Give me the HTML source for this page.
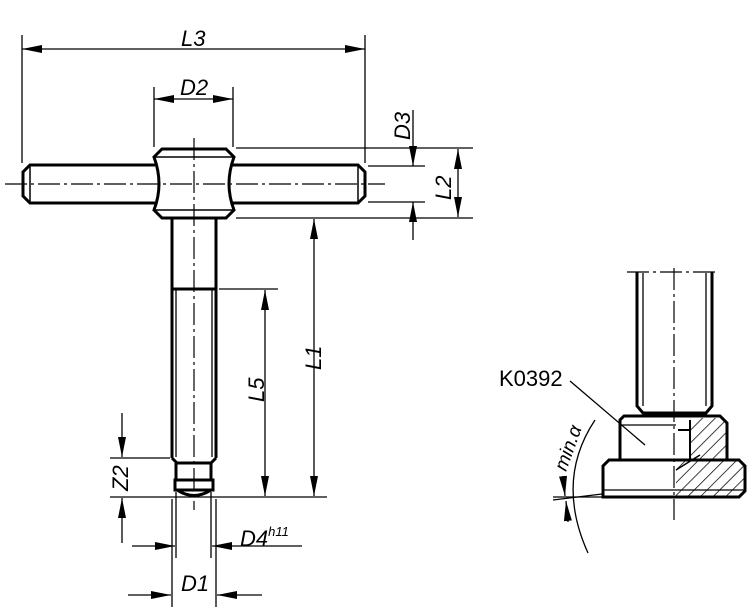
<!DOCTYPE html>
<html><head><style>html,body{margin:0;padding:0;background:#fff}svg{display:block}</style></head><body>
<svg width="750" height="612" viewBox="0 0 750 612" xmlns="http://www.w3.org/2000/svg" font-family="Liberation Sans, sans-serif" font-style="italic" font-size="22">
<defs>
<pattern id="h" width="9" height="9" patternUnits="userSpaceOnUse" patternTransform="rotate(45)"><line x1="0" y1="0" x2="0" y2="9" stroke="#000" stroke-width="1.5"/></pattern>
<marker id="a" markerWidth="20" markerHeight="8" refX="20" refY="4" orient="auto" markerUnits="userSpaceOnUse"><path d="M0,0 L20,4 L0,8z" fill="#000"/></marker>
</defs>
<g stroke="#000" fill="none">
<g stroke-width="3">
<path d="M155,165 L30,165 L23,172 L23,196 L30,203 L155,203"/>
<path d="M232,165 L358,165 L365,172 L365,196 L358,203 L232,203"/>
<path d="M162,149 L226,149 L234,157 Q224,184 234,210 L226,218 L162,218 L154,210 Q164,184 154,157 Z"/>
<line x1="30" y1="166" x2="30" y2="202" stroke-width="1.5"/><line x1="358" y1="166" x2="358" y2="202" stroke-width="1.5"/>
<line x1="155" y1="157" x2="233" y2="157" stroke-width="1.5"/><line x1="155" y1="210" x2="233" y2="210" stroke-width="1.5"/>
<path d="M172,218 L172,458 M216,218 L216,458 M172,289 L216,289"/>
<path d="M172,458 L177,463 L211,463 L216,458"/>
<path d="M176,463 L176,480 M211,463 L211,480 M175,480 L213,480 L213,490 L175,490 Z"/>
<path d="M177,490 Q194,501 211,490"/>
</g>
<line x1="176" y1="290" x2="176" y2="457" stroke-width="1.3"/><line x1="212" y1="290" x2="212" y2="457" stroke-width="1.3"/>
<g stroke-width="1.2" stroke-dasharray="22,4,3,4">
<line x1="5" y1="184" x2="385" y2="184"/>
<line x1="194" y1="138" x2="194" y2="510"/>
</g>
<g stroke-width="1.3">
<line x1="22" y1="35" x2="22" y2="163"/><line x1="365" y1="35" x2="365" y2="163"/>
<line x1="194" y1="49" x2="365" y2="49" marker-end="url(#a)"/><line x1="194" y1="49" x2="22" y2="49" marker-end="url(#a)"/>
<line x1="154" y1="87" x2="154" y2="147"/><line x1="233" y1="87" x2="233" y2="147"/>
<line x1="194" y1="99" x2="233" y2="99" marker-end="url(#a)"/><line x1="194" y1="99" x2="154" y2="99" marker-end="url(#a)"/>
<line x1="236" y1="148" x2="473" y2="148"/><line x1="236" y1="218" x2="473" y2="218"/>
<line x1="368" y1="166" x2="425" y2="166"/><line x1="368" y1="202" x2="425" y2="202"/>
<line x1="413" y1="110" x2="413" y2="166" marker-end="url(#a)"/><line x1="413" y1="240" x2="413" y2="202" marker-end="url(#a)"/>
<line x1="458" y1="183" x2="458" y2="149" marker-end="url(#a)"/><line x1="458" y1="183" x2="458" y2="217" marker-end="url(#a)"/>
<line x1="314" y1="330" x2="314" y2="219" marker-end="url(#a)"/><line x1="314" y1="330" x2="314" y2="496" marker-end="url(#a)"/>
<line x1="219" y1="289" x2="278" y2="289"/>
<line x1="265" y1="400" x2="265" y2="290" marker-end="url(#a)"/><line x1="265" y1="400" x2="265" y2="496" marker-end="url(#a)"/>
<line x1="110" y1="497" x2="327" y2="497"/>
<line x1="110" y1="458" x2="170" y2="458"/>
<line x1="122" y1="413" x2="122" y2="457" marker-end="url(#a)"/><line x1="122" y1="543" x2="122" y2="498" marker-end="url(#a)"/>
<line x1="176" y1="492" x2="176" y2="558"/><line x1="211" y1="492" x2="211" y2="558"/>
<line x1="132" y1="546" x2="175" y2="546" marker-end="url(#a)"/><line x1="302" y1="546" x2="212" y2="546" marker-end="url(#a)"/>
<line x1="172" y1="499" x2="172" y2="607"/><line x1="216" y1="499" x2="216" y2="607"/>
<line x1="128" y1="595" x2="171" y2="595" marker-end="url(#a)"/><line x1="262" y1="595" x2="217" y2="595" marker-end="url(#a)"/>
</g>
<rect x="676" y="460" width="68" height="37" fill="url(#h)" stroke="none"/>
<rect x="690" y="418" width="36" height="42" fill="url(#h)" stroke="none"/>
<g stroke-width="3">
<path d="M637,272 L637,406 L643,413 L706,413 L712,406 L712,272"/>
<path d="M620,460 L620,420 L624,416 L720,416 L727,423 L727,460"/>
<path d="M603,497 L603,466 L609,460 L739,460 L745,466 L745,491 L739,497 Z"/>
<line x1="678" y1="430" x2="690" y2="430" stroke-width="2"/>
<line x1="690" y1="420" x2="690" y2="460" stroke-width="2"/>
</g>
<line x1="643" y1="273" x2="643" y2="406" stroke-width="1.3"/><line x1="706" y1="273" x2="706" y2="406" stroke-width="1.3"/>
<line x1="603" y1="490" x2="745" y2="490" stroke-width="1.3"/><line x1="621" y1="425" x2="676" y2="425" stroke-width="1.3"/>
<line x1="676" y1="470" x2="700" y2="455" stroke-width="1.5"/>
<g stroke-width="1.2" stroke-dasharray="22,4,3,4">
<line x1="674" y1="268" x2="674" y2="520"/><line x1="627" y1="272" x2="717" y2="272"/>
</g>
<line x1="570" y1="381" x2="645" y2="445" stroke-width="1.3"/>
<path d="M595,420 Q555,480 588,553" stroke-width="1.3"/>
<line x1="553" y1="497" x2="602" y2="497" stroke-width="1.3"/>
<line x1="553" y1="500" x2="602" y2="494" stroke-width="1.3"/>
<line x1="563" y1="476" x2="565" y2="496" marker-end="url(#a)" stroke-width="1.3"/>
<line x1="568" y1="522" x2="566" y2="501" marker-end="url(#a)" stroke-width="1.3"/>
</g>
<g fill="#000" stroke="none">
<text x="181" y="46">L3</text>
<text x="180" y="95">D2</text>
<text transform="translate(410,140) rotate(-90)">D3</text>
<text transform="translate(451,200) rotate(-90)">L2</text>
<text transform="translate(321,370) rotate(-90)">L1</text>
<text transform="translate(264,402) rotate(-90)">L5</text>
<text transform="translate(128,491) rotate(-90)">Z2</text>
<text x="240" y="546">D4<tspan font-size="13" dy="-10">h11</tspan></text>
<text x="181" y="591">D1</text>
<text x="499" y="386" font-style="normal">K0392</text>
<text transform="translate(566,472) rotate(-70)" font-size="19">min.α</text>
</g>
</svg>
</body></html>
